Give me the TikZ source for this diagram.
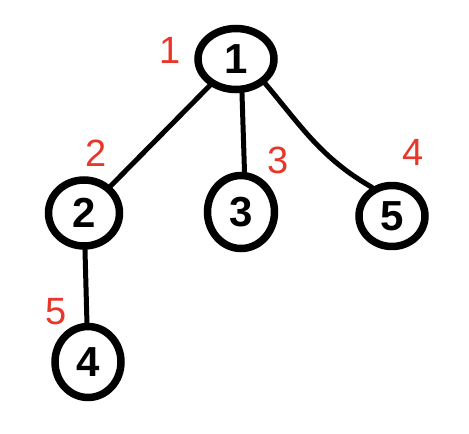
\documentclass[tikz,border=0pt]{standalone}
\usepackage{fontspec}
\setmainfont{Liberation Sans}
\usetikzlibrary{shapes.geometric}
\definecolor{inkred}{HTML}{E8372A}
\begin{document}
\begin{tikzpicture}[x=1pt,y=-1pt,
  vtx/.style={ellipse,draw=black,line width=7.5pt,inner sep=0pt,font=\fontsize{42}{42}\selectfont\bfseries},
  edge/.style={line width=5pt,line cap=round},
  order/.style={text=inkred,font=\fontsize{38}{38}\selectfont}]
\useasboundingbox (0,0) rectangle (469,434);
% tree vertices
\node[vtx,minimum width=76pt,minimum height=61pt] (n1) at (236,59) {1};
\node[vtx,minimum width=71pt,minimum height=66pt] (n2) at (84,213) {2};
\node[vtx,minimum width=67pt,minimum height=73pt] (n3) at (241,212) {3};
\node[vtx,minimum width=66pt,minimum height=61pt] (n5) at (392,216) {5};
\node[vtx,minimum width=66pt,minimum height=71pt] (n4) at (88,362) {4};
% edges
\draw[edge] (n1) -- (n2);
\draw[edge] (n1.-80) -- (n3.85);
\draw[edge] (n1.-40) to[out=-50,in=150] (n5.125);
\draw[edge] (n2) -- (n4);
% visiting order
\node[order] (o1) at (170,50) {1};
\node[order] (o2) at (96,153) {2};
\node[order] (o3) at (278,160) {3};
\node[order] (o4) at (413,152) {4};
\node[order] (o5) at (56,312) {5};
\end{tikzpicture}
\end{document}
